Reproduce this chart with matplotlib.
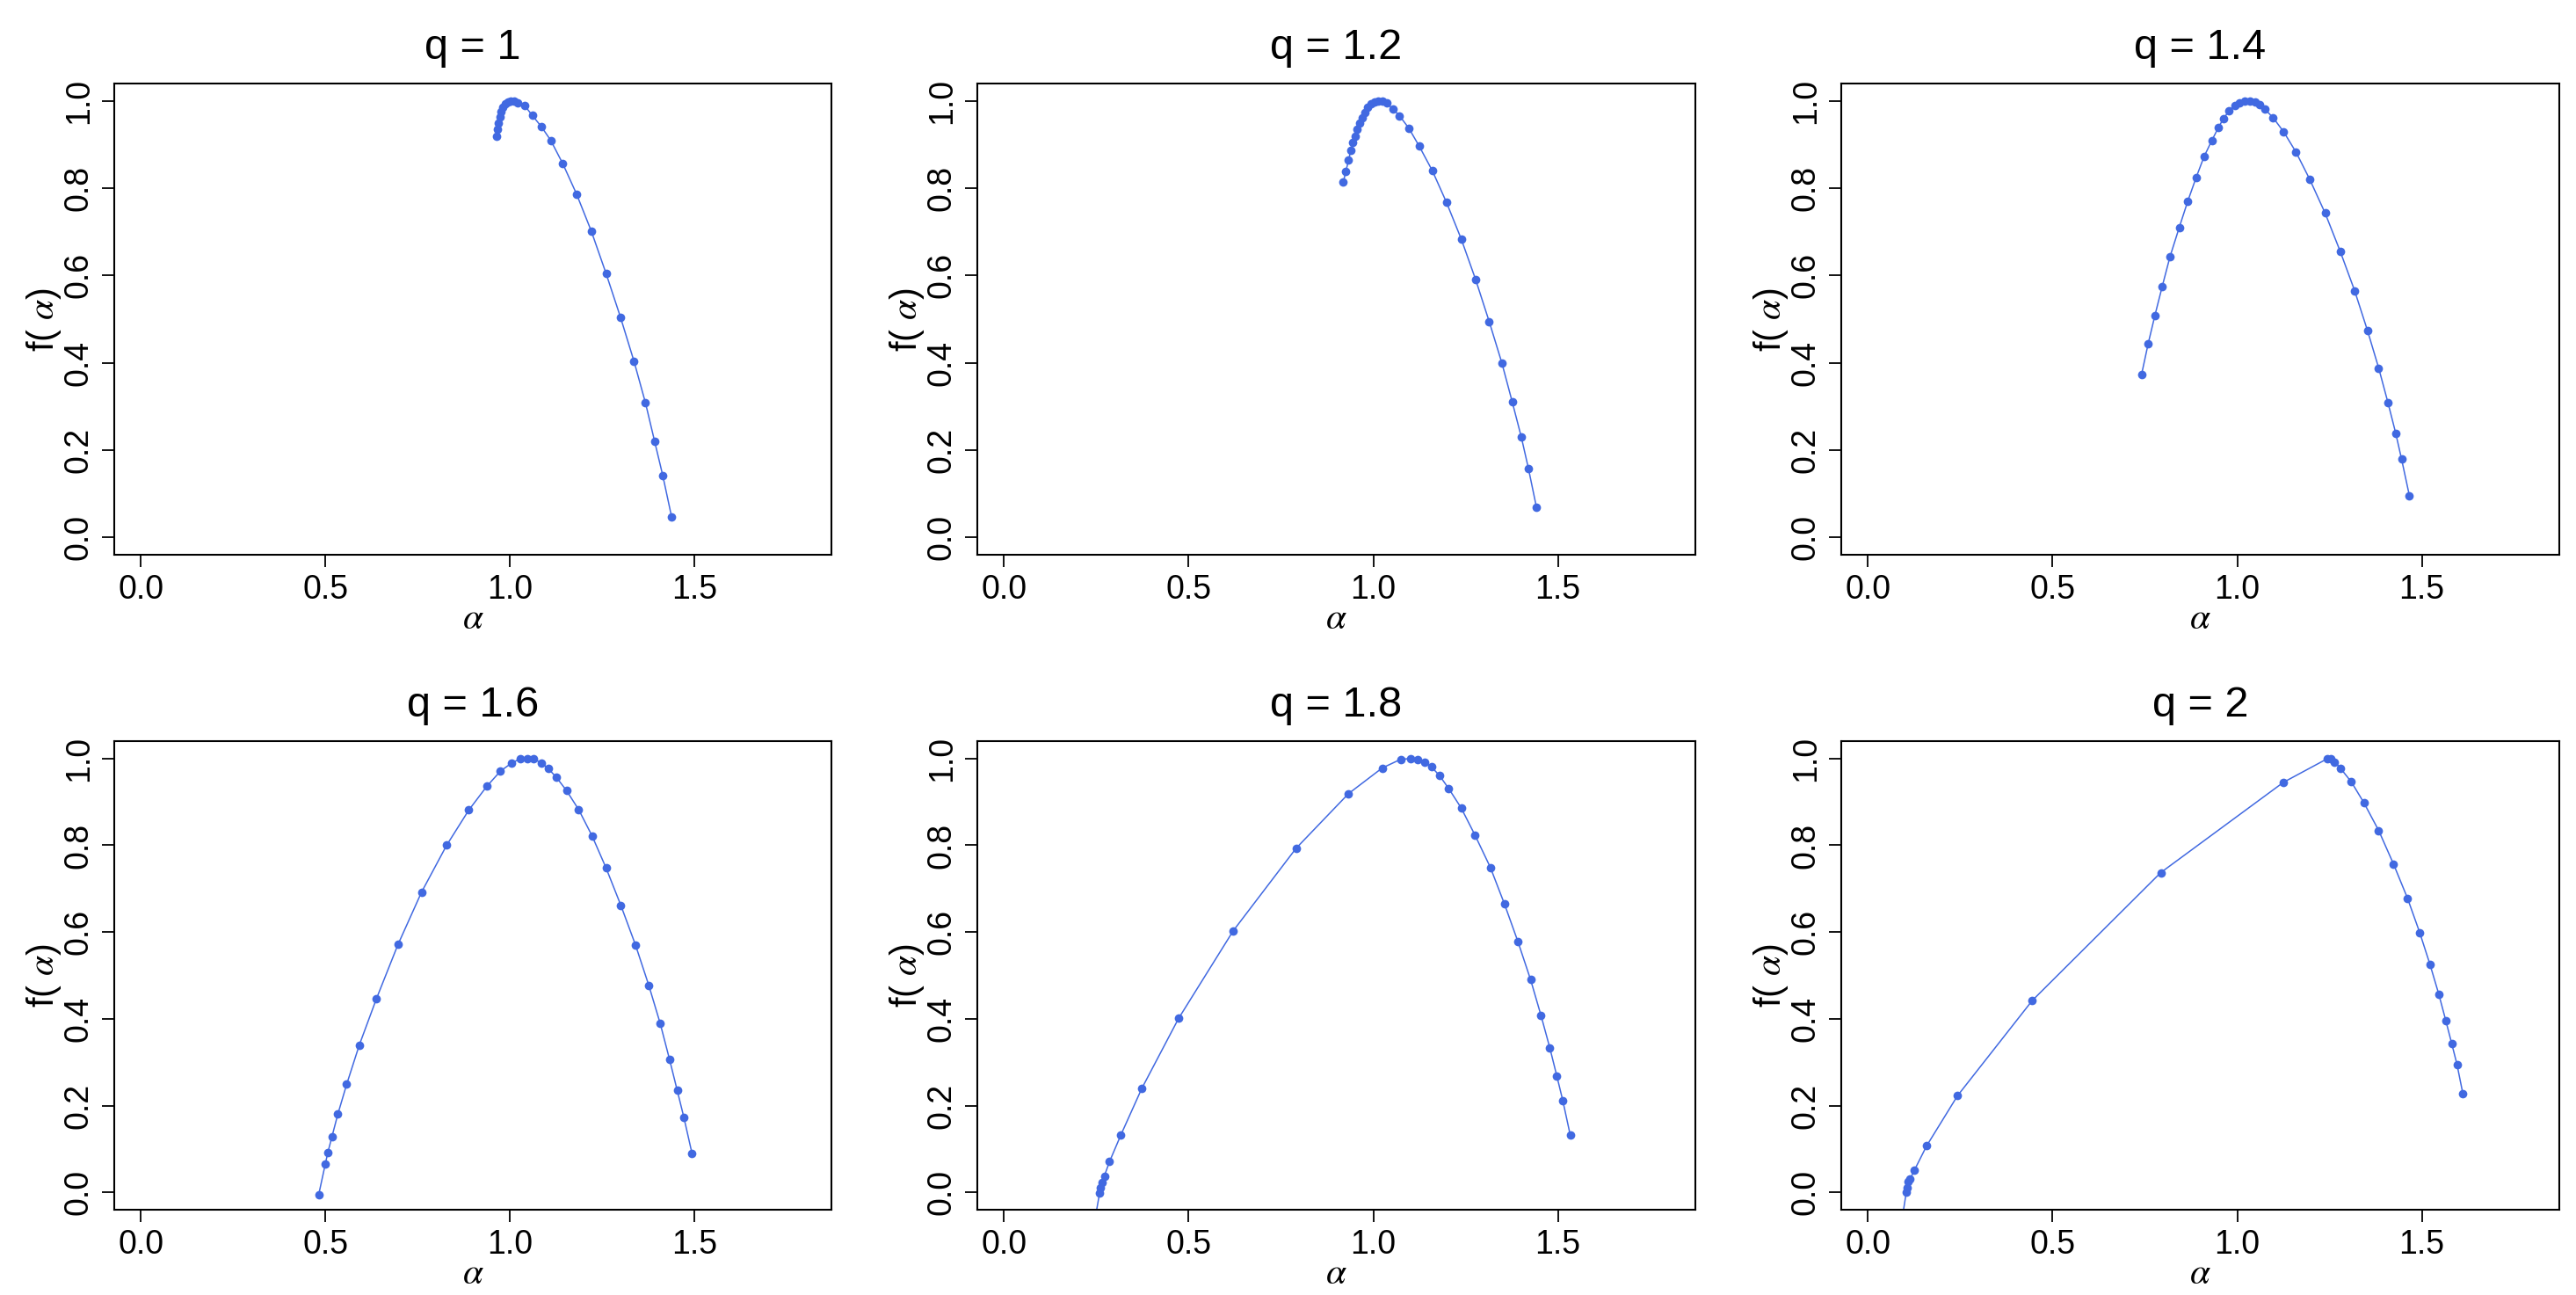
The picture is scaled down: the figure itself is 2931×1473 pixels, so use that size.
import matplotlib
matplotlib.use("Agg")
import matplotlib.pyplot as plt

plt.rcParams["font.family"] = ["Liberation Sans", "DejaVu Sans"]
plt.rcParams["mathtext.fontset"] = "stix"

titles = ["q = 1", "q = 1.2", "q = 1.4", "q = 1.6", "q = 1.8", "q = 2"]

alpha_q1 = [0.965, 0.967, 0.970, 0.973, 0.977, 0.982, 0.988, 0.995, 1.003, 1.012, 1.021,
            1.040, 1.061, 1.085, 1.111, 1.144, 1.181, 1.221, 1.261, 1.300, 1.337, 1.368,
            1.393, 1.415, 1.439]
f_q1 = [0.920, 0.935, 0.950, 0.963, 0.975, 0.985, 0.993, 0.998, 1.000, 0.999, 0.996,
        0.990, 0.967, 0.942, 0.910, 0.856, 0.787, 0.702, 0.605, 0.505, 0.403, 0.308,
        0.219, 0.141, 0.046]

alpha_q12 = [0.919, 0.926, 0.933, 0.939, 0.945, 0.951, 0.957, 0.963, 0.970, 0.977, 0.985,
             0.994, 1.003, 1.013, 1.024, 1.036, 1.053, 1.071, 1.096, 1.124, 1.160, 1.198,
             1.238, 1.277, 1.314, 1.348, 1.376, 1.401, 1.420, 1.442]
f_q12 = [0.815, 0.839, 0.864, 0.886, 0.904, 0.920, 0.935, 0.949, 0.962, 0.974, 0.985,
         0.993, 0.998, 1.000, 0.999, 0.995, 0.982, 0.966, 0.938, 0.897, 0.840, 0.768,
         0.684, 0.591, 0.494, 0.400, 0.311, 0.229, 0.158, 0.068]

alpha_q14 = [0.741, 0.759, 0.777, 0.797, 0.818, 0.843, 0.866, 0.889, 0.910, 0.931, 0.949,
             0.963, 0.978, 0.993, 1.006, 1.020, 1.035, 1.049, 1.061, 1.075, 1.097, 1.126,
             1.159, 1.196, 1.238, 1.279, 1.318, 1.353, 1.383, 1.408, 1.429, 1.445, 1.466]
f_q14 = [0.373, 0.444, 0.508, 0.575, 0.643, 0.710, 0.770, 0.825, 0.872, 0.909, 0.939,
         0.960, 0.977, 0.989, 0.996, 1.000, 1.000, 0.998, 0.992, 0.981, 0.962, 0.929,
         0.883, 0.821, 0.743, 0.655, 0.565, 0.473, 0.388, 0.309, 0.239, 0.179, 0.096]

alpha_q16 = [0.482, 0.500, 0.507, 0.518, 0.534, 0.558, 0.592, 0.639, 0.697, 0.761, 0.829,
             0.889, 0.938, 0.975, 1.006, 1.028, 1.047, 1.065, 1.085, 1.104, 1.126, 1.154,
             1.187, 1.223, 1.261, 1.301, 1.341, 1.377, 1.408, 1.433, 1.454, 1.472, 1.494]
f_q16 = [-0.006, 0.065, 0.092, 0.128, 0.180, 0.249, 0.339, 0.447, 0.571, 0.692, 0.800,
         0.881, 0.936, 0.971, 0.990, 0.999, 1.000, 0.999, 0.990, 0.977, 0.957, 0.926,
         0.882, 0.822, 0.748, 0.662, 0.570, 0.477, 0.389, 0.307, 0.235, 0.173, 0.090]

alpha_q18 = [0.247, 0.259, 0.262, 0.266, 0.272, 0.286, 0.317, 0.373, 0.473, 0.621, 0.791,
             0.933, 1.024, 1.074, 1.102, 1.121, 1.139, 1.157, 1.179, 1.204, 1.238, 1.275,
             1.317, 1.355, 1.392, 1.426, 1.454, 1.478, 1.497, 1.513, 1.533]
f_q18 = [-0.060, -0.002, 0.010, 0.022, 0.038, 0.071, 0.133, 0.239, 0.401, 0.603, 0.793,
         0.919, 0.978, 0.998, 1.000, 0.998, 0.992, 0.981, 0.961, 0.931, 0.886, 0.824,
         0.749, 0.665, 0.577, 0.490, 0.408, 0.333, 0.268, 0.212, 0.133]

alpha_q2 = [0.093, 0.104, 0.107, 0.110, 0.114, 0.126, 0.159, 0.243, 0.445, 0.793, 1.125,
            1.245, 1.254, 1.264, 1.279, 1.309, 1.343, 1.383, 1.423, 1.461, 1.494, 1.522,
            1.546, 1.565, 1.581, 1.595, 1.611]
f_q2 = [-0.060, 0.000, 0.011, 0.024, 0.030, 0.051, 0.107, 0.223, 0.442, 0.737, 0.945,
        1.000, 1.000, 0.992, 0.978, 0.946, 0.898, 0.834, 0.757, 0.678, 0.599, 0.525,
        0.456, 0.395, 0.342, 0.295, 0.227]

series = [(alpha_q1, f_q1), (alpha_q12, f_q12), (alpha_q14, f_q14),
          (alpha_q16, f_q16), (alpha_q18, f_q18), (alpha_q2, f_q2)]

W, H = 2931, 1473
fig = plt.figure(figsize=(W / 100, H / 100), dpi=100)

col_x = [(130, 946), (1112, 1929), (2095, 2912)]
row_y = [(95, 631), (843, 1376)]
blue = "#4169E1"

for i, (title, (a, f)) in enumerate(zip(titles, series)):
    r, c = divmod(i, 3)
    x0, x1 = col_x[c]
    y0, y1 = row_y[r]
    ax = fig.add_axes([x0 / W, 1 - y1 / H, (x1 - x0) / W, (y1 - y0) / H])
    ax.plot(a, f, "-", color=blue, lw=1.1)
    ax.plot([p for p, v in zip(a, f) if v >= -0.01], [v for v in f if v >= -0.01],
            "o", color=blue, ms=7, mec="none")
    ax.set_xlim(-0.072, 1.872)
    ax.set_ylim(-0.04, 1.04)
    ax.set_xticks([0.0, 0.5, 1.0, 1.5])
    ax.set_xticklabels(["0.0", "0.5", "1.0", "1.5"])
    ax.set_yticks([0.0, 0.2, 0.4, 0.6, 0.8, 1.0])
    ax.set_yticklabels(["0.0", "0.2", "0.4", "0.6", "0.8", "1.0"],
                       rotation=90, va="center")
    ax.tick_params(labelsize=27, length=10, width=1.3, pad=6)
    for s in ax.spines.values():
        s.set_linewidth(1.5)
    ax.set_xlabel(r"$\alpha$", fontsize=30, labelpad=-4)
    ax.set_ylabel(r"f( $\alpha$)", fontsize=30, labelpad=0)
    ax.set_title(title, fontsize=35, pad=20)

fig.savefig("out.png", dpi=100)
